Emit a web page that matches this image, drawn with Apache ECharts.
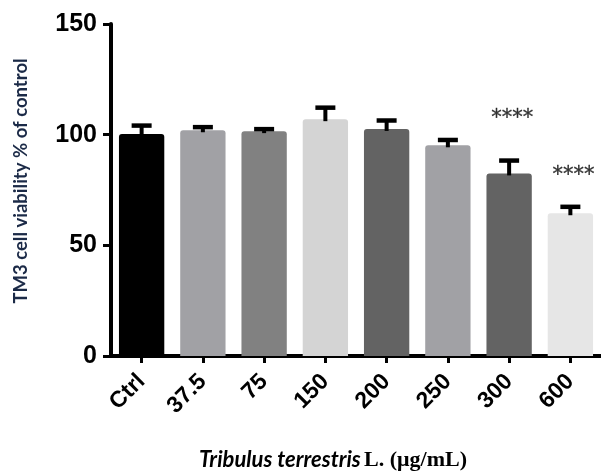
<!DOCTYPE html>
<html>
<head>
<meta charset="utf-8">
<script src="https://cdn.jsdelivr.net/npm/echarts@6/dist/echarts.min.js"></script>
<style>html,body{margin:0;padding:0;background:#fff}#c{width:601px;height:472px}</style>
</head>
<body>
<div id="c"></div>
<script>
const categories = ['Ctrl', '37.5', '75', '150', '200', '250', '300', '600'];
const means = [100.3, 102, 101.6, 107, 102.6, 95.2, 82.5, 64.5];
const errors = [3.8, 1.4, 0.9, 5.2, 3.8, 2.4, 5.8, 2.9];
const barColors = ['#000000', '#a1a1a5', '#818181', '#d4d4d4', '#636363', '#a1a1a5', '#636363', '#e6e6e6'];
const sigLabels = ['', '', '', '', '', '', '****', '****'];
const sigValues = [null, null, null, null, null, null, 107.5, 81.5];
const yTicks = [0, 50, 100, 150];

const chart = echarts.init(document.getElementById('c'));
chart.setOption({
  animation: false,
  backgroundColor: '#ffffff',
  grid: { left: 111, right: -9, top: 24, bottom: 116, containLabel: false },
  xAxis: {
    type: 'category',
    data: categories,
    axisLine: { show: true, lineStyle: { color: '#000', width: 4 } },
    axisTick: { show: true, alignWithLabel: true, length: 7, lineStyle: { color: '#000', width: 3 } },
    axisLabel: { rotate: 45, margin: 22, color: '#000', fontFamily: 'Liberation Sans', fontWeight: 'bold', fontSize: 23, interval: 0 }
  },
  yAxis: {
    type: 'value',
    min: yTicks[0], max: yTicks[yTicks.length - 1], interval: 50,
    splitLine: { show: false },
    axisLine: { show: true, lineStyle: { color: '#000', width: 4 } },
    axisTick: { show: true, length: 8, lineStyle: { color: '#000', width: 3 } },
    axisLabel: { margin: 14, color: '#000', fontFamily: 'Liberation Sans', fontWeight: 'bold', fontSize: 25 }
  },
  series: [
    {
      type: 'bar',
      barWidth: '74%',
      data: means.map((v, i) => ({ value: v, itemStyle: { color: barColors[i], borderRadius: [3, 3, 0, 0] } })),
      z: 2
    },
    {
      type: 'custom',
      z: 3,
      data: categories.map((c, i) => [i, means[i], errors[i]]),
      encode: { x: 0, y: 1 },
      renderItem: function (params, api) {
        const base = api.coord([api.value(0), api.value(1)]);
        const top = api.coord([api.value(0), api.value(1) + api.value(2)]);
        const hw = 10;
        return {
          type: 'group',
          children: [
            { type: 'line', shape: { x1: base[0], y1: base[1] + 2, x2: top[0], y2: top[1] }, style: { stroke: '#000', lineWidth: 4 } },
            { type: 'line', shape: { x1: top[0] - hw, y1: top[1], x2: top[0] + hw, y2: top[1] }, style: { stroke: '#000', lineWidth: 4.5 } }
          ]
        };
      }
    },
    {
      type: 'scatter',
      symbolSize: 1,
      itemStyle: { color: 'rgba(0,0,0,0)' },
      data: categories.map((c, i) => [i, sigValues[i]]).filter(d => d[1] !== null),
      label: {
        show: true, position: 'inside', offset: [3, 0],
        formatter: p => sigLabels[p.data[0]],
        fontFamily: 'DejaVu Sans', fontSize: 21, color: '#000',
        textBorderColor: '#000', textBorderWidth: 0.3
      },
      z: 4
    }
  ],
  graphic: [
    {
      type: 'text', x: 21, y: 181, rotation: Math.PI / 2,
      style: { text: 'TM3 cell viability % of control', fontFamily: 'Lato', fontWeight: 'bold', fontSize: 18.5, fill: '#1b2a47', textAlign: 'center', textVerticalAlign: 'middle' }
    },
    {
      type: 'text', x: 333, y: 460,
      style: {
        text: '{a|Tribulus terrestris} {b|L. (μg/mL)}',
        textAlign: 'center', textVerticalAlign: 'middle',
        rich: {
          a: { fontFamily: 'Lato', fontStyle: 'italic', fontWeight: 'bold', fontSize: 22, fill: '#000' },
          b: { fontFamily: 'Liberation Serif', fontWeight: 'bold', fontSize: 22, fill: '#000' }
        }
      }
    }
  ]
});
</script>
</body>
</html>
